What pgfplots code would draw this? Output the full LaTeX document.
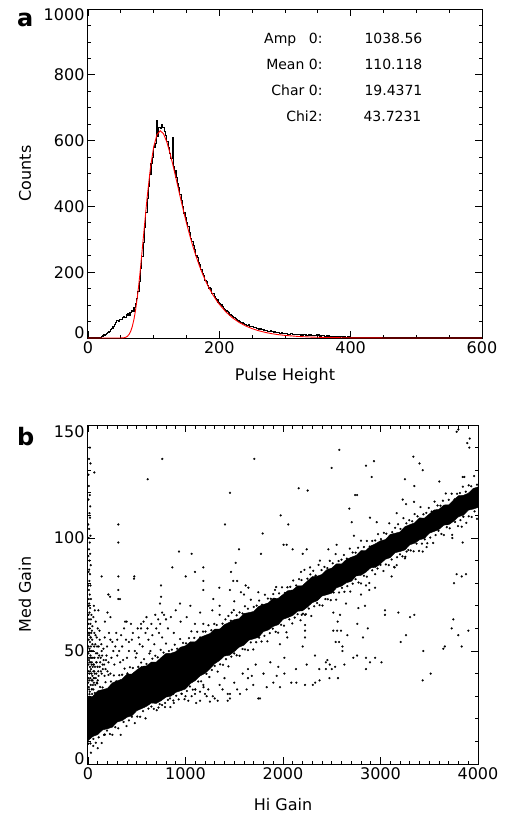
\documentclass[border=0pt]{standalone}
\usepackage{fontspec}
\setmainfont{DejaVu Sans}
\usepackage{pgfplots}
\pgfplotsset{compat=1.18}

\pgfplotsset{
  idl/.style={
    scale only axis,
    axis line style={line width=1pt},
    tick align=inside,
    major tick length=7pt,
    minor tick length=3.5pt,
    every tick/.style={black, line width=0.8pt},
    tick label style={font=\fontsize{16}{16}\selectfont},
    label style={font=\fontsize{16}{16}\selectfont},
    /pgf/number format/assume math mode=true,
    /pgf/number format/set thousands separator={},
    scaled ticks=false,
  },
  dots/.style={only marks, mark=*, mark size=1pt, mark options={draw=black, fill=black, line width=0.2pt}},
}
% IDL nudges the end labels of the y axis inwards
\newcommand{\up}[2]{\raisebox{#1}[\height][\depth]{#2}}

\begin{document}
\begin{tikzpicture}
\path[use as bounding box] (0pt,0pt) rectangle (507pt,-814pt);

% ---- panel a: pulse height histogram with fit
\begin{axis}[idl,
  at={(88pt,-338pt)}, anchor=south west,
  width=394pt, height=329pt,
  xmin=0, xmax=600, ymin=0, ymax=1000,
  xtick={0,200,400,600}, minor x tick num=3,
  ytick={0,200,400,600,800,1000}, minor y tick num=3,
  yticklabels={\up{5pt}{0},200,400,600,800,\up{-6pt}{1000}},
  xlabel={Pulse Height}, ylabel={Counts},
  xlabel style={at={(axis description cs:0.5,-0.128)}, anchor=base},
  ylabel style={at={(axis description cs:-0.16,0.5)}, anchor=center},
]
\addplot[const plot, black, line width=1.1pt] coordinates {
(0,0) (16,0) (18,2) (20,4) (22,6) (24,9) (26,11) (28,15) (30,17) (32,21) (34,25) (36,28) (38,34)
(40,40) (42,47) (44,52) (46,50) (48,57) (50,55) (52,61) (54,66) (56,62) (58,70) (60,73) (62,68)
(64,77) (66,82) (68,80) (70,92) (72,104) (74,121) (76,140) (78,172) (80,210) (82,248) (84,291)
(86,335) (88,381) (90,425) (92,462) (94,498) (96,531) (98,548) (100,580) (102,590) (104,662)
(106,612) (108,640) (110,636) (112,648) (114,640) (116,628) (118,616) (120,596) (122,580)
(124,560) (126,545) (128,608) (130,522) (132,510) (134,488) (136,470) (138,458) (140,436)
(142,418) (144,400) (146,380) (148,366) (150,352) (152,338) (154,320) (156,302) (158,293)
(160,282) (162,268) (164,250) (166,244) (168,228) (170,222) (172,208) (174,196) (176,190)
(178,175) (180,172) (182,160) (184,152) (186,149) (188,136) (190,134) (192,126) (194,120)
(196,117) (198,108) (200,106) (202,101) (204,96) (206,90) (208,88) (210,82) (212,80) (214,76)
(216,70) (218,68) (220,66) (222,62) (224,58) (226,57) (228,52) (230,51) (232,48) (234,46)
(236,44) (238,42) (240,41) (242,38) (244,40) (246,35) (248,36) (250,34) (252,31) (254,33)
(256,29) (258,30) (260,27) (262,28) (264,25) (266,26) (268,24) (270,22) (272,23) (274,21)
(276,20) (278,22) (280,19) (282,18) (284,20) (286,17) (288,18) (290,16) (292,15) (294,17)
(296,14) (298,15) (300,13) (304,12) (308,13) (312,11) (316,10) (320,11) (324,9) (328,10)
(332,8) (336,9) (340,8) (344,7) (348,9) (352,6) (356,7) (360,5) (364,6) (368,4) (372,5)
(376,4) (380,3) (384,4) (388,3) (392,2) (396,3) (400,2) (404,2) (408,1) (412,2) (416,1)
(420,1) (424,1) (428,0) (600,0)
};
\addplot[red, line width=0.9pt] coordinates {
(0,0) (50,0.1) (55,0.9) (57.5,2.2) (60,5.2) (62.5,10.8) (65,20.3) (67.5,35.4) (70,56.7)
(72.5,85.9) (75,121.8) (77.5,165) (80,214) (85,320.6) (90,426) (95,516) (100,580.8)
(105,618) (110,630) (115,620.8) (120,596) (125,561) (130,520) (135,476.6) (140,432.5)
(145,389.7) (150,349) (155,311.6) (160,277) (165,245.7) (170,217.5) (175,192.2)
(180,169.7) (185,149.7) (190,131.9) (195,116.2) (200,102.4) (210,79.3) (220,61.4)
(230,47.5) (240,36.7) (250,28.4) (260,22.0) (270,17.0) (280,13.1) (290,10.2) (300,7.9)
(320,4.7) (340,2.8) (360,1.7) (380,1.0) (400,0.6) (450,0.15) (500,0) (600,0)
};
\end{axis}

% ---- panel b: med gain vs hi gain
\begin{axis}[idl,
  at={(88pt,-764pt)}, anchor=south west,
  width=390pt, height=339pt,
  xmin=0, xmax=4000, ymin=0, ymax=150,
  xtick={0,1000,2000,3000,4000}, minor x tick num=9,
  ytick={0,50,100,150}, minor y tick num=4,
  yticklabels={\up{5pt}{0},50,100,\up{-7pt}{150}},
  xlabel={Hi Gain}, ylabel={Med Gain},
  xlabel style={at={(axis description cs:0.5,-0.136)}, anchor=base},
  ylabel style={at={(axis description cs:-0.1615,0.5)}, anchor=center},
]
% solid core of the band (upper edge, then lower edge back)
\addplot[fill=black, draw=black, line width=0.4pt] coordinates {
(0,29.5) (50,30.0) (100,32.4) (150,32.9) (200,33.5) (250,35.9) (300,36.8) (350,37.6) (400,39.8)
(450,39.8) (500,41.6) (550,43.2) (600,43.4) (650,45.1) (700,45.1) (750,47.1) (800,48.9)
(850,49.0) (900,49.7) (950,51.7) (1000,52.3) (1050,54.1) (1100,54.0) (1150,56.0) (1200,56.9)
(1250,57.7) (1300,59.7) (1350,59.7) (1400,61.7) (1450,62.7) (1500,63.9) (1550,64.3)
(1600,66.6) (1650,67.0) (1700,67.5) (1750,69.7) (1800,70.6) (1850,71.3) (1900,73.4)
(1950,73.3) (2000,75.0) (2050,76.7) (2100,77.0) (2150,78.8) (2200,78.9) (2250,81.0)
(2300,82.9) (2350,83.1) (2400,83.9) (2450,86.0) (2500,86.7) (2550,88.6) (2600,88.5)
(2650,90.5) (2700,91.5) (2750,92.3) (2800,94.4) (2850,94.5) (2900,96.5) (2950,97.5)
(3000,98.8) (3050,99.3) (3100,101.6) (3150,102.1) (3200,102.7) (3250,105.0) (3300,105.9)
(3350,106.7) (3400,108.9) (3450,108.8) (3500,110.6) (3550,112.4) (3600,112.7) (3650,114.6)
(3700,114.7) (3750,116.8) (3800,118.7) (3850,118.9) (3900,119.8) (3950,121.9) (4000,122.6)
(4000,113.5) (3950,112.8) (3900,112.3) (3850,110.1) (3800,109.4) (3750,107.4) (3700,105.9)
(3650,105.7) (3600,103.8) (3550,102.9) (3500,102.1) (3450,99.8) (3400,99.2) (3350,97.7)
(3300,97.0) (3250,94.7) (3200,94.0) (3150,93.5) (3100,91.3) (3050,90.6) (3000,88.6)
(2950,87.0) (2900,86.8) (2850,84.9) (2800,83.5) (2750,83.2) (2700,80.8) (2650,80.2)
(2600,78.7) (2550,78.0) (2500,75.6) (2450,74.9) (2400,74.3) (2350,72.2) (2300,71.4)
(2250,69.4) (2200,67.8) (2150,67.6) (2100,65.7) (2050,64.8) (2000,64.0) (1950,61.6)
(1900,60.9) (1850,59.3) (1800,58.6) (1750,56.1) (1700,55.4) (1650,54.8) (1600,52.6)
(1550,51.7) (1500,49.7) (1450,48.1) (1400,47.8) (1350,45.8) (1300,44.4) (1250,42.1)
(1200,40.1) (1150,39.0) (1100,36.9) (1050,35.6) (1000,33.2) (950,32.4) (900,31.7) (850,30.0)
(800,29.6) (750,28.0) (700,26.8) (650,27.0) (600,25.5) (550,24.5) (500,23.6) (450,21.3)
(400,20.7) (350,19.2) (300,18.6) (250,16.3) (200,15.6) (150,15.1) (100,13.0) (50,12.2) (0,10.3)
} --cycle;
% ragged upper edge of the band
\addplot[dots] coordinates {
(15,30.9) (40,33.1) (70,31.4) (95,35.7) (125,34.1) (150,33.9) (180,36.2) (210,39.4) (235,36.5)
(265,39.2) (290,36.6) (320,39.3) (350,39.5) (375,42.2) (405,40.1) (430,42.8) (460,42.5)
(490,47.1) (515,43.0) (545,44.9) (575,46.4) (600,44.3) (630,48.9) (660,46.6) (690,47.9)
(715,47.2) (745,50.5) (775,49.3) (800,53.3) (830,50.0) (860,50.6) (890,52.8) (915,51.0)
(945,55.3) (975,53.6) (1005,53.4) (1035,55.7) (1060,58.7) (1090,55.8) (1120,58.5) (1150,56.0)
(1180,58.6) (1205,58.6) (1235,61.4) (1265,59.2) (1295,62.0) (1320,61.5) (1350,66.0) (1380,62.1)
(1410,64.0) (1440,65.5) (1465,63.4) (1495,68.1) (1525,65.8) (1555,67.1) (1585,66.6) (1610,69.8)
(1640,68.7) (1670,72.7) (1700,69.5) (1730,70.1) (1755,72.3) (1785,70.5) (1815,74.9) (1845,73.2)
(1875,73.1) (1900,75.2) (1930,78.3) (1960,75.5) (1990,78.2) (2020,75.7) (2045,78.2) (2075,78.4)
(2105,81.2) (2135,79.0) (2165,81.8) (2190,81.4) (2220,85.9) (2250,82.0) (2280,83.9) (2310,85.5)
(2335,83.4) (2365,88.1) (2395,85.8) (2425,87.2) (2455,86.7) (2480,89.9) (2510,88.8) (2540,92.9)
(2570,89.8) (2600,90.4) (2625,92.5) (2655,90.9) (2685,95.3) (2715,93.6) (2745,93.5) (2770,95.7)
(2800,98.8) (2830,96.0) (2860,98.7) (2890,96.2) (2915,98.7) (2945,98.9) (2975,101.7) (3005,99.5)
(3035,102.3) (3060,101.9) (3090,106.5) (3120,102.6) (3150,104.5) (3180,106.1) (3205,104.0)
(3235,108.8) (3265,106.5) (3295,107.9) (3325,107.4) (3350,110.6) (3380,109.6) (3410,113.7)
(3440,110.5) (3470,111.1) (3495,113.3) (3525,111.7) (3555,116.1) (3585,114.4) (3615,114.3)
(3640,116.5) (3670,119.7) (3700,116.9) (3730,119.6) (3760,117.1) (3785,119.6) (3815,119.9)
(3845,122.7) (3875,120.5) (3905,123.3) (3930,122.9) (3960,127.4) (3990,123.6)
};
% ragged lower edge of the band
\addplot[dots] coordinates {
(25,9.1) (55,11.1) (80,9.4) (110,11.8) (140,9.3) (165,12.9) (195,14.8) (225,13.3) (250,12.9)
(280,16.3) (310,15.8) (335,12.9) (365,18.6) (395,16.8) (420,19.3) (450,20.9) (480,18.1)
(505,21.0) (535,20.9) (565,23.4) (590,20.2) (620,24.5) (650,25.4) (675,24.4) (705,23.8)
(735,26.5) (760,26.1) (790,25.2) (820,28.4) (845,25.2) (875,28.1) (905,30.2) (930,28.6)
(960,31.1) (990,28.7) (1015,32.3) (1045,34.3) (1075,32.9) (1100,33.0) (1130,36.5) (1160,36.6)
(1185,34.0) (1215,39.9) (1245,38.5) (1270,41.6) (1300,43.4) (1330,40.9) (1355,44.1) (1385,43.9)
(1415,46.4) (1440,43.2) (1470,47.5) (1500,48.9) (1525,48.1) (1555,47.9) (1585,50.9) (1610,50.7)
(1640,50.4) (1670,53.8) (1695,50.7) (1725,53.9) (1755,55.9) (1780,54.2) (1810,56.7) (1840,54.3)
(1865,57.9) (1895,59.9) (1925,58.5) (1950,58.1) (1980,61.6) (2010,61.2) (2035,58.3) (2065,64.0)
(2095,62.2) (2120,64.8) (2150,66.3) (2180,63.6) (2205,66.5) (2235,66.3) (2265,68.8) (2290,65.5)
(2320,69.8) (2350,71.2) (2375,70.3) (2405,70.1) (2435,73.0) (2460,72.9) (2490,72.5) (2520,75.9)
(2545,72.7) (2575,75.9) (2605,77.9) (2630,76.2) (2660,78.7) (2690,76.3) (2715,79.8) (2745,81.8)
(2775,80.3) (2800,79.9) (2830,83.3) (2860,82.9) (2885,80.1) (2915,85.7) (2945,84.0) (2970,86.5)
(3000,88.1) (3030,85.4) (3055,88.3) (3085,88.0) (3115,90.5) (3140,87.2) (3170,91.5) (3200,92.8)
(3225,91.9) (3255,91.7) (3285,94.7) (3310,94.5) (3340,94.1) (3370,97.5) (3395,94.3) (3425,97.5)
(3455,99.4) (3480,97.7) (3510,100.2) (3540,97.8) (3565,101.3) (3595,103.2) (3625,101.8)
(3650,101.3) (3680,104.8) (3710,104.3) (3735,101.4) (3765,107.1) (3795,105.3) (3820,107.9)
(3850,109.4) (3880,106.7) (3905,109.6) (3935,109.3) (3965,111.8) (3990,108.5)
};
% dense cloud at low hi-gain values
\addplot[dots] coordinates {
(3,58) (6,52) (9,47) (4,44) (7,38) (2,36) (11,33) (14,45) (16,58) (19,50) (23,41) (26,56)
(28,45) (33,58) (36,40) (38,47) (43,55) (46,37) (52,50) (57,44) (58,38) (63,52) (67,47)
(72,43) (77,57) (82,49) (88,45) (93,52) (98,43) (103,47) (108,39) (115,48) (118,59) (125,45)
(132,41) (137,53) (145,48) (152,42) (158,51) (165,44) (172,56) (185,46) (195,52) (210,45)
(215,58) (240,47) (250,54) (280,52) (300,55) (320,50) (340,57) (370,60) (390,55) (420,50)
(440,62) (460,58) (510,60) (530,53) (570,63) (610,60) (650,62) (690,66) (720,64) (760,67)
(5,66) (8,73) (3,79) (6,85) (4,92) (7,100) (3,106) (5,117) (8,123) (4,128) (10,135)
};
% scattered points away from the band
\addplot[dots] coordinates {
(20,140) (25,133) (65,129) (18,119) (22,114) (15,111) (20,109) (12,104) (25,101) (18,98)
(10,95) (22,93) (15,90) (28,88) (12,86) (20,84) (14,81) (25,79) (10,77) (18,75) (30,73)
(12,71) (22,69) (15,67) (35,66) (10,64) (25,62) (18,60) (40,59) (12,57) (30,56) (20,54)
(45,53) (15,51) (35,50) (25,48) (50,47) (10,46) (40,45) (60,44) (20,43) (30,42) (55,41)
(15,40) (70,40) (45,39) (25,38) (80,38) (35,37) (60,36) (90,36) (50,35) (100,37)
(8,55) (30,52) (5,49) (22,47) (38,44) (8,41) (48,43) (65,41) (12,37) (28,35) (40,33)
(8,34) (55,33) (75,35) (18,32) (42,31) (62,38) (85,40) (5,62) (30,64) (45,61) (8,70)
(60,70) (70,68) (55,65) (80,63) (100,60) (65,58) (90,56) (120,55) (75,53) (110,52) (140,50)
(95,49) (130,47) (160,46) (85,45) (150,44) (120,43) (180,42) (105,41) (200,41) (140,40)
(170,39) (230,40)
(226,74) (328,73) (200,67) (230,65) (174,63) (106,68) (397,63) (544,62) (544,60) (728,58)
(738,71) (749,74) (944,71) (1012,65) (1097,62) (1183,62) (1275,68) (1285,73) (1474,67)
(230,55) (290,58) (350,52) (420,54) (480,50) (560,52) (620,55) (680,53) (760,56) (820,60)
(880,58) (950,63) (300,48) (400,47) (500,49) (640,50) (260,50) (450,55) (700,60) (850,65)
(1150,67) (1350,70) (1500,72) (1600,75) (1050,70) (600,65) (780,66) (900,68)
(209,75) (311,73) (380,63) (472,82) (330,45) (190,48) (270,44) (360,46) (520,56) (590,58)
(660,57) (740,62) (800,64)
(762,135) (612,126) (311,106) (311,98) (140,83) (311,83) (475,83) (311,77) (749,79) (865,87)
(933,94) (1063,93) (1002,83) (1097,85) (1183,87) (1183,81) (1183,77) (1347,78) (1405,106)
(1456,120) (1706,135) (1467,85) (1515,89) (1549,95) (1490,81) (1530,81) (1456,77) (1569,76)
(1617,79) (1645,78) (1747,76) (1792,102) (1774,93) (1976,110) (1918,77) (2006,97)
(2578,139) (2499,131) (2851,132) (2933,134) (2910,127) (2161,122) (2253,121) (2740,119)
(2760,119) (2680,113) (2054,106) (2705,107) (2892,109) (2961,107) (2728,101) (2038,97)
(2099,95) (2243,95) (2202,93) (2465,95) (2550,97) (2379,90) (2277,87) (2185,85)
(3337,136) (3400,133) (3433,130) (3251,126) (3347,123) (3603,125) (3228,117) (3262,115)
(3344,116) (3166,111) (3781,147) (3798,148) (3890,142) (3911,140) (3915,144) (3843,127)
(3860,127) (3833,105) (3737,100) (3843,98) (3473,96) (3433,94) (3268,94) (3251,91)
(3166,88) (3145,87) (3114,83) (2851,79) (2885,77) (2944,78) (2800,75) (3781,84) (3833,83)
(3877,84) (3754,80)
(54,8) (167,13) (174,13) (3,9) (30,5) (100,7)
(723,25) (790,27) (841,29) (874,31) (945,34) (1029,28) (1063,30) (1097,31) (1149,32)
(1149,28) (1183,35) (1217,30) (1234,33) (1251,27.6) (1300,29) (1330,28) (1433,28) (1433,31)
(1456,31) (1456,29) (1559,31) (1587,40) (1627,33) (1641,38) (1641,42) (1695,35) (1747,29)
(1764,29) (1833,34) (1901,36) (1935,39) (1952,43) (1000,30) (1110,27) (1200,31) (1280,30)
(1380,33) (1500,36) (1530,33) (1680,39) (1720,44) (1800,40) (1870,45) (1100,33) (960,31)
(880,27) (1400,38) (1350,35)
(2646,71) (2773,69) (2841,70) (3046,68) (3046,66) (3183,67) (3303,65) (3347,66) (3747,64)
(3730,60) (3798,57) (3901,59) (3833,52) (3644,51) (3660,52) (3439,50) (3433,37) (3515,40)
(3207,54) (3262,57) (2516,67) (2585,66) (2561,63) (2516,59) (2555,59) (2595,59) (2660,57)
(2540,54) (2575,54) (2610,52) (2610,50) (2762,62) (2870,60) (2820,56) (2721,47) (2760,48)
(2851,47) (2851,42) (2892,45) (2945,47) (3010,45) (2629,44) (2476,38) (2564,38) (2500,42)
(2535,43) (2480,44) (2455,46) (2440,45) (2372,42) (2440,42) (2328,48) (2226,35) (2306,35)
(2330,36) (2375,37) (2085,36) (2137,36) (2133,42) (2243,44) (2014,40) (1969,34) (2014,47)
(2202,52) (2226,56) (2226,59) (2226,61.5) (2226,66) (2192,66) (2044,56) (1969,53)
};
\end{axis}

% panel letters and fit results
\node[anchor=base west, inner sep=0pt, font=\fontsize{24}{24}\selectfont\bfseries] at (17pt,-26pt) {a};
\node[anchor=base west, inner sep=0pt, font=\fontsize{24}{24}\selectfont\bfseries] at (17pt,-445pt) {b};
\begin{scope}[every node/.style={inner sep=0pt, font=\fontsize{14}{14}\selectfont}]
\node[anchor=base east] at (322.7pt,-43.3pt) {Amp\hspace{0.9em}0:};
\node[anchor=base east] at (322.7pt,-69pt) {Mean 0:};
\node[anchor=base east] at (322.7pt,-95.7pt) {Char 0:};
\node[anchor=base east] at (322.7pt,-121.7pt) {Chi2:};
\node[anchor=base west] at (364.3pt,-43.3pt) {1038.56};
\node[anchor=base west] at (364.3pt,-69pt) {110.118};
\node[anchor=base west] at (364.3pt,-95.7pt) {19.4371};
\node[anchor=base west] at (363.3pt,-121.7pt) {43.7231};
\end{scope}
\end{tikzpicture}
\end{document}
